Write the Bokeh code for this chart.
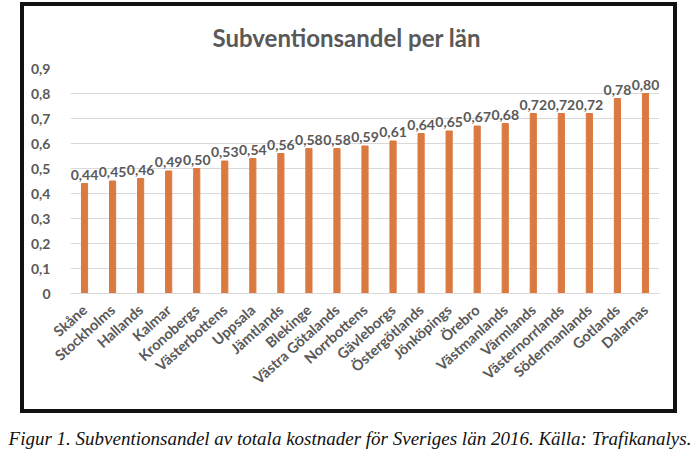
import math

from bokeh.core.properties import value
from bokeh.embed import file_html
from bokeh.layouts import column
from bokeh.models import (ColumnDataSource, CustomJSTickFormatter, Div,
                          FactorRange, FixedTicker, Range1d)
from bokeh.plotting import figure
from bokeh.resources import INLINE

# Subventionsandel per län, 2016
lan = ["Skåne", "Stockholms", "Hallands", "Kalmar", "Kronobergs", "Västerbottens",
       "Uppsala", "Jämtlands", "Blekinge", "Västra Götalands", "Norrbottens",
       "Gävleborgs", "Östergötlands", "Jönköpings", "Örebro", "Västmanlands",
       "Värmlands", "Västernorrlands", "Södermanlands", "Gotlands", "Dalarnas"]
andel = [0.44, 0.45, 0.46, 0.49, 0.50, 0.53, 0.54, 0.56, 0.58, 0.58, 0.59,
         0.61, 0.64, 0.65, 0.67, 0.68, 0.72, 0.72, 0.72, 0.78, 0.80]
y_ticks = [0.0, 0.1, 0.2, 0.3, 0.4, 0.5, 0.6, 0.7, 0.8, 0.9]

title_text = "Subventionsandel per län"
caption_text = ("Figur 1. Subventionsandel av totala kostnader för Sveriges län 2016. "
                "Källa: Trafikanalys.")

BAR = "#DB7A40"
TEXT = "#595959"
GRID = "#D9D9D9"
SANS = "Lato"

# outer size of the framed chart, 4px border included
BOX_W, BOX_H = 657, 411

src = ColumnDataSource(dict(lan=lan, andel=andel,
                            label=[f"{v:.2f}".replace(".", ",") for v in andel]))

p = figure(width=BOX_W, height=BOX_H, output_backend="svg", toolbar_location=None,
           x_range=FactorRange(*lan, range_padding=0),
           y_range=Range1d(0, 0.9),
           min_border_left=46, min_border_right=22,
           min_border_top=61, min_border_bottom=124)
p.outline_line_color = None
p.background_fill_color = "white"
p.border_fill_color = "white"
p.margin = (2, 0, 0, 20)
p.styles = {"border": "4px solid #111111"}

p.vbar(x="lan", top="andel", width=0.22, source=src, color=BAR)
p.text(x="lan", y="andel", text="label", source=src,
       text_align="center", text_baseline="alphabetic", y_offset=-9,
       text_font=value(SANS), text_font_style="bold",
       text_font_size="14px", text_color=TEXT)

# title
p.title.text = title_text
p.title.align = "left"
p.title.offset = 142
p.title.standoff = 31
p.title.vertical_align = "middle"
p.title.text_font = SANS
p.title.text_font_style = "bold"
p.title.text_font_size = "24px"
p.title.text_color = TEXT

# grid
p.xgrid.visible = False
p.ygrid.grid_line_color = GRID
p.ygrid.grid_line_width = 1
p.ygrid.ticker = FixedTicker(ticks=y_ticks)

# y axis
p.yaxis.ticker = FixedTicker(ticks=y_ticks)
p.yaxis.formatter = CustomJSTickFormatter(
    code='return tick == 0 ? "0" : tick.toFixed(1).replace(".", ",");')
p.yaxis.axis_line_color = None
p.yaxis.major_tick_line_color = None
p.yaxis.minor_tick_line_color = None
p.yaxis.major_label_standoff = 14
p.yaxis.major_label_text_font = SANS
p.yaxis.major_label_text_font_style = "bold"
p.yaxis.major_label_text_font_size = "14px"
p.yaxis.major_label_text_color = TEXT

# x axis
p.xaxis.axis_line_color = GRID
p.xaxis.major_tick_line_color = None
p.xaxis.minor_tick_line_color = None
p.xaxis.major_label_orientation = math.radians(42)
p.xaxis.major_label_standoff = 8
p.xaxis.major_label_text_font = SANS
p.xaxis.major_label_text_font_style = "bold"
p.xaxis.major_label_text_font_size = "14.5px"
p.xaxis.major_label_text_color = TEXT

# figure caption under the frame
caption = Div(text=caption_text, width=700, height=26, margin=(12, 0, 0, 0),
              styles={"font-family": "'Liberation Serif', 'Times New Roman', serif",
                      "font-style": "italic", "font-size": "19px", "color": "#111111",
                      "text-align": "center", "white-space": "nowrap",
                      "width": "700px"})

page = column(p, caption, spacing=0, width=700, height=456)
open("out.html", "w").write(file_html(page, INLINE))
